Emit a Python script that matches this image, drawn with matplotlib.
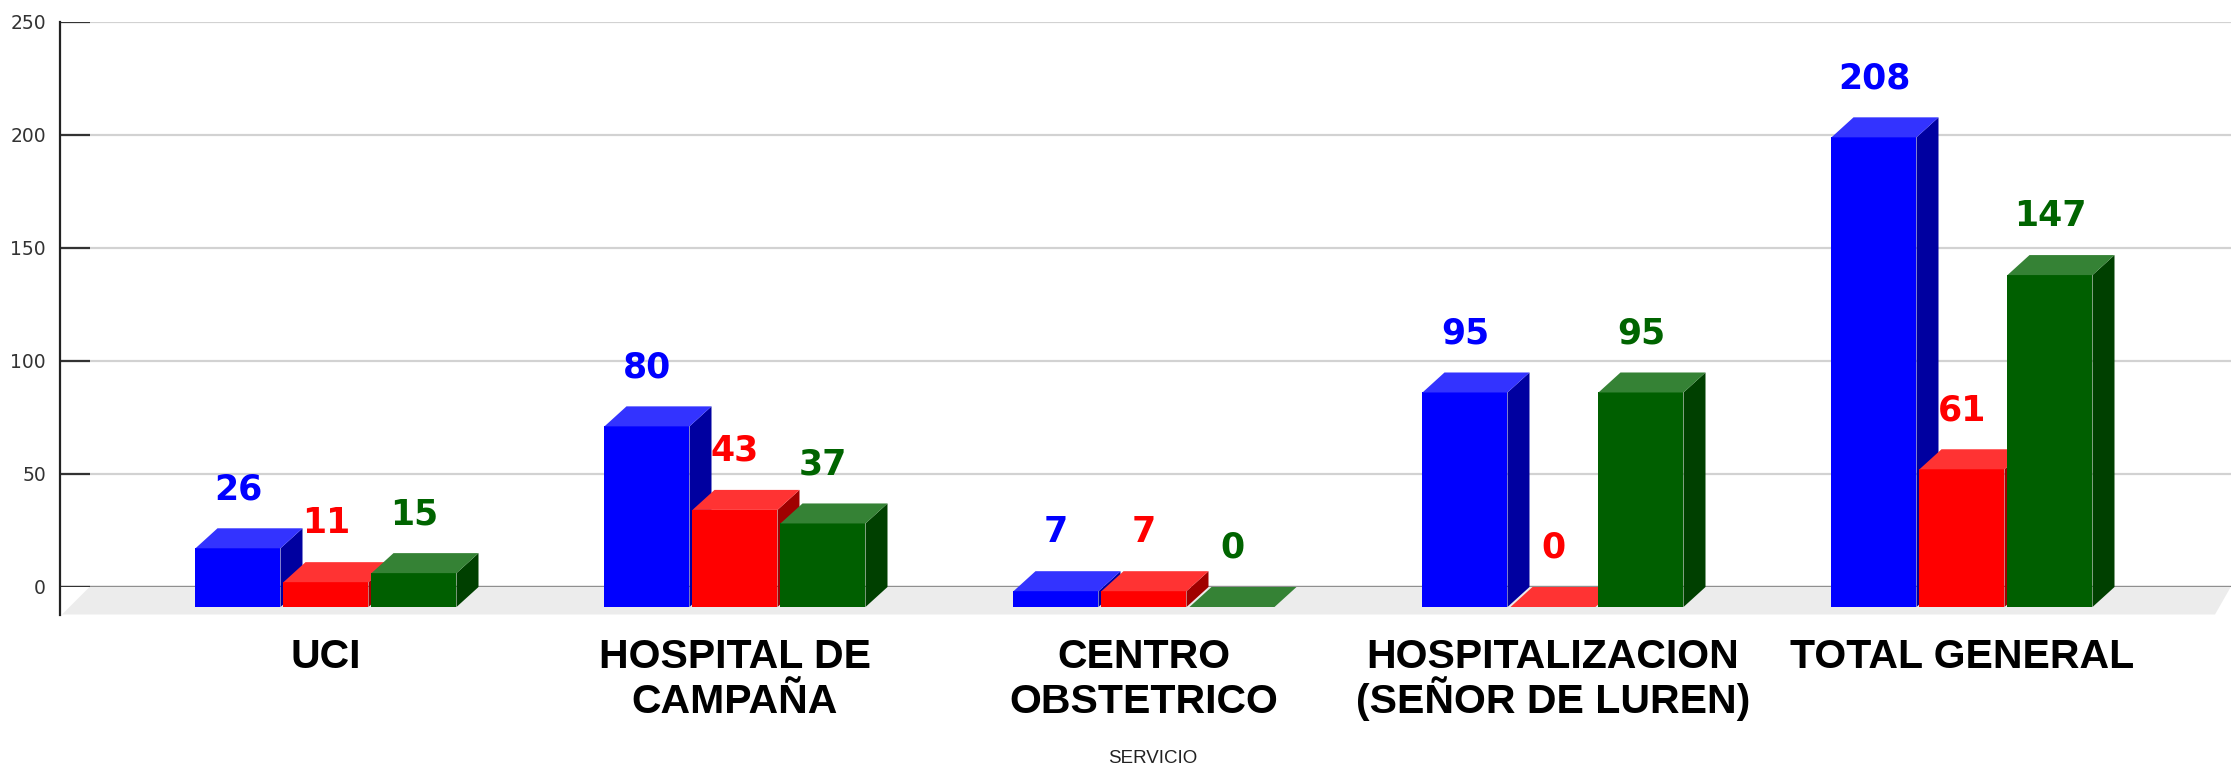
import matplotlib
matplotlib.use('Agg')
import matplotlib.pyplot as plt
from matplotlib.patches import Polygon

categories = ['UCI', 'HOSPITAL DE\nCAMPAÑA', 'CENTRO\nOBSTETRICO',
              'HOSPITALIZACION\n(SEÑOR DE LUREN)', 'TOTAL GENERAL']
blue_vals = [26, 80, 7, 95, 208]
red_vals = [11, 43, 7, 0, 61]
green_vals = [15, 37, 0, 95, 147]
y_ticks = [0, 50, 100, 150, 200, 250]

W, H = 2231, 766
fig = plt.figure(figsize=(W / 100, H / 100), dpi=100)
# axes box in pixels: left 60, right edge, 250 at y=22, 0 at y=586.5
ax = fig.add_axes([60 / W, 1 - 586.5 / H, (W - 60) / W, 564.5 / H])
ax.set_xlim((60 - 326) / 409, (W - 326) / 409)
ax.set_ylim(0, 250)

px_x = 1 / 409      # one pixel in x data units
px_y = 250 / 564.5  # one pixel in y data units
dx = 22 * px_x
dy = 20 * px_y
base = -20.5 * px_y   # front of the bars sits below the zero line
bar_w = 85 * px_x
step = 88 * px_x

# grid + short black ticks on the back wall
for v in y_ticks:
    ax.axhline(v, color='#d2d2d2' if v else '#333333', lw=1.6, zorder=1)
    ax.plot([(60 - 326) * px_x, (90 - 326) * px_x], [v, v], color='#333333', lw=1.6,
            zorder=1.5, solid_capstyle='butt')

# floor
left = ax.get_xlim()[0]
right = ax.get_xlim()[1]
ax.add_patch(Polygon([(left + 2 * px_x, -28 * px_y), (left + 30 * px_x, 0), (right, 0),
                      (right - 16 * px_x, -28 * px_y)],
                     closed=True, fc='#ececec', ec='none', zorder=1.2, clip_on=False))


def draw_series(vals, off, front, top, side, label_col, z):
    for i, v in enumerate(vals):
        x0 = i + off * step - bar_w / 2
        x1 = x0 + bar_w
        y1 = base + v
        if v > 0:
            ax.bar(x0, v, width=bar_w, bottom=base, align='edge', color=front,
                   linewidth=0, zorder=z, clip_on=False)
            ax.add_patch(Polygon([(x1, base), (x1 + dx, base + dy), (x1 + dx, y1 + dy), (x1, y1)],
                                 closed=True, fc=side, ec='none', zorder=z, clip_on=False))
        ax.add_patch(Polygon([(x0, y1), (x0 + dx, y1 + dy), (x1 + dx, y1 + dy), (x1, y1)],
                             closed=True, fc=top, ec='none', zorder=z, clip_on=False))
        ax.text((x0 + x1) / 2, y1 + dy + 39 * px_y, str(v), color=label_col, fontsize=25,
                fontweight='bold', family='DejaVu Sans', ha='center', va='center', zorder=10)


draw_series(blue_vals, -1, '#0000ff', '#3333ff', '#0000a0', '#0000ff', 3)
draw_series(red_vals, 0, '#ff0000', '#ff3333', '#a00000', '#ff0000', 4)
draw_series(green_vals, 1, '#005f00', '#358235', '#004000', '#006400', 5)

for s in ['top', 'right', 'bottom']:
    ax.spines[s].set_visible(False)
ax.spines['left'].set_color('#222222')
ax.spines['left'].set_linewidth(1.6)
ax.spines['left'].set_bounds(-28 * px_y, 250)

ax.set_yticks(y_ticks)
ax.tick_params(axis='y', length=0, pad=10, labelsize=13.5, labelcolor='#333333')
ax.set_xticks(range(len(categories)))
ticklabels = ax.set_xticklabels(categories, family='Liberation Sans', fontweight='bold',
                                fontsize=29.5, color='black')
# line gap comes out different per label because of the tall glyphs
for lab, ls in zip(ticklabels, [1.2, 1.23, 1.23, 1.01, 1.2]):
    lab.set_linespacing(ls)
ax.tick_params(axis='x', length=0, pad=37)

ax.set_xlabel('SERVICIO', family='Liberation Sans', fontsize=13.5, color='#222222', va='bottom')
ax.xaxis.set_label_coords(0.5035, -0.319)
ax.patch.set_alpha(0)

fig.savefig('out.png', dpi=100)
plt.close(fig)
